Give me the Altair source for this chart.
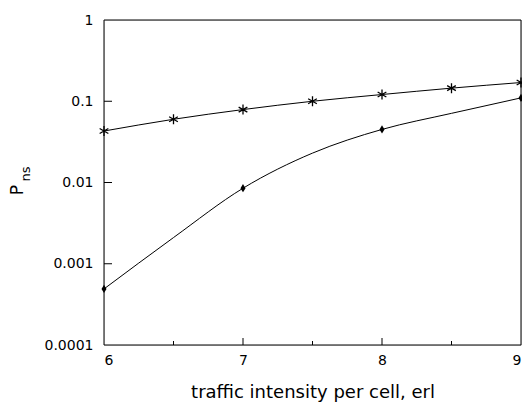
import altair as alt
import pandas as pd

# Data
star_x = [6, 6.5, 7, 7.5, 8, 8.5, 9]
star_y = [0.043, 0.060, 0.079, 0.100, 0.121, 0.145, 0.170]

dia_curve_x = [6, 6.5, 7, 7.5, 8, 8.5, 9]
dia_curve_y = [0.00049, 0.0021, 0.0085, 0.023, 0.045, 0.071, 0.11]
dia_mark_x = [6, 7, 8, 9]
dia_mark_y = [0.00049, 0.0085, 0.045, 0.11]

y_ticks = [0.0001, 0.001, 0.01, 0.1, 1]
x_ticks = [6, 7, 8, 9]
x_major_inner = [7, 8]
x_minor_inner = [6.5, 7.5, 8.5]
y_major_inner = [0.001, 0.01, 0.1]

FONT = "DejaVu Sans"
W, H = 417, 325

star_df = pd.DataFrame({"x": star_x, "y": star_y})
dcurve_df = pd.DataFrame({"x": dia_curve_x, "y": dia_curve_y})
dmark_df = pd.DataFrame({"x": dia_mark_x, "y": dia_mark_y})

xs = alt.Scale(domain=[6, 9], nice=False, zero=False)
ys = alt.Scale(type="log", domain=[0.0001, 1], nice=False)

xax = alt.Axis(values=x_ticks, format="d", ticks=False, domain=False, grid=False,
               labelFont=FONT, labelFontSize=14, labelColor="black", labelPadding=8,
               title="traffic intensity per cell, erl", titleFont=FONT, titleFontSize=18,
               titleFontWeight="normal", titleColor="black", titlePadding=16)
yax = alt.Axis(values=y_ticks, format="~g", ticks=False, domain=False, grid=False,
               labelFont=FONT, labelFontSize=14, labelColor="black", labelPadding=11,
               title=None)

X = alt.X("x:Q", scale=xs, axis=xax)
Y = alt.Y("y:Q", scale=ys, axis=yax)

frame = alt.Chart(pd.DataFrame({"t": [0]})).mark_rect(fill=None, stroke="black", strokeWidth=1).encode(
    x=alt.value(0), x2=alt.value(W), y=alt.value(0), y2=alt.value(H))

star_line = alt.Chart(star_df).mark_line(color="black", strokeWidth=1, interpolate="monotone").encode(x=X, y=Y)
dia_line = alt.Chart(dcurve_df).mark_line(color="black", strokeWidth=1, interpolate="monotone").encode(x=X, y=Y)

asterisk = "M0,-1L0,1M-0.87,-0.5L0.87,0.5M-0.87,0.5L0.87,-0.5"
star_pts = alt.Chart(star_df).mark_point(shape=asterisk, filled=False, stroke="black",
                                         strokeWidth=1.3, size=100, opacity=1).encode(x=X, y=Y)
diamond = "M0,-1.3L0.8,0L0,1.3L-0.8,0Z"
dia_pts = alt.Chart(dmark_df).mark_point(shape=diamond, filled=True, fill="black",
                                         size=40, opacity=1).encode(x=X, y=Y)

xt_major = alt.Chart(pd.DataFrame({"x": x_major_inner})).mark_rule(color="black", strokeWidth=1).encode(
    x=X, y=alt.value(H), y2=alt.value(H - 7))
xt_minor = alt.Chart(pd.DataFrame({"x": x_minor_inner})).mark_rule(color="black", strokeWidth=1).encode(
    x=X, y=alt.value(H), y2=alt.value(H - 4))
yt_major = alt.Chart(pd.DataFrame({"y": y_major_inner})).mark_rule(color="black", strokeWidth=1).encode(
    y=Y, x=alt.value(0), x2=alt.value(8))

label_df = pd.DataFrame({"t": ["P"]})
p_text = alt.Chart(label_df).mark_text(text="P", font=FONT, fontSize=17, angle=270, color="black",
                                       align="center", baseline="alphabetic").encode(
    x=alt.value(-81), y=alt.value(170))
ns_text = alt.Chart(label_df).mark_text(text="ns", font=FONT, fontSize=13, angle=270, color="black",
                                        align="center", baseline="alphabetic").encode(
    x=alt.value(-74), y=alt.value(154))

chart = alt.layer(
    frame, star_line, dia_line, xt_major, xt_minor, yt_major, star_pts, dia_pts, p_text, ns_text
).properties(
    width=W, height=H,
    autosize=alt.AutoSizeParams(type="none"),
    padding={"left": 104, "top": 20, "right": 1, "bottom": 63},
).configure_view(strokeWidth=0).configure(background="white")

chart.save("out.html", embed_options={"renderer": "svg", "actions": False})
